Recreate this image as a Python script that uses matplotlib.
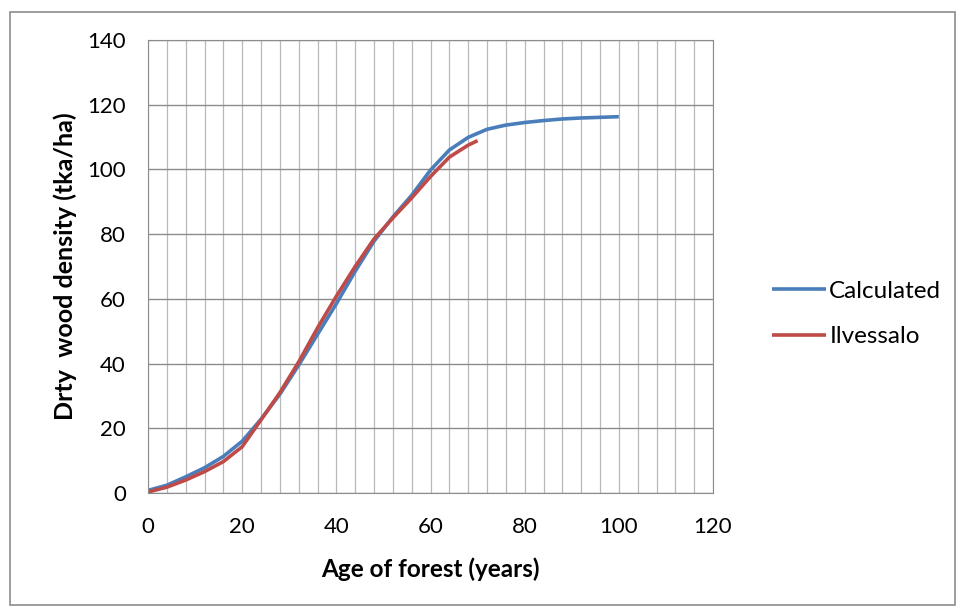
import matplotlib
matplotlib.use("Agg")
import matplotlib.pyplot as plt
from matplotlib.patches import Rectangle
import numpy as np

# age of forest (years) and dry wood density (tka/ha)
calc_age = [0, 4, 8, 12, 16, 20, 24, 28, 32, 36, 40, 44, 48, 52, 56, 60, 64, 68, 72, 76, 80, 84, 88, 92, 96, 100]
calc_val = [0.8, 2.4, 5.0, 7.8, 11.3, 16.0, 22.8, 30.5, 39.5, 49.0, 58.5, 68.5, 77.8, 85.3, 92.0, 99.8, 106.0, 109.9,
            112.4, 113.7, 114.5, 115.1, 115.6, 115.9, 116.1, 116.3]

ilv_age = [0, 4, 8, 12, 16, 20, 24, 28, 32, 36, 40, 44, 48, 52, 56, 60, 64, 68, 70]
ilv_val = [0.3, 1.8, 4.0, 6.6, 9.7, 14.3, 22.6, 31.0, 40.5, 51.0, 60.8, 70.0, 78.5, 85.0, 91.2, 97.8, 103.8, 107.5, 108.9]

x_ticks = [0, 20, 40, 60, 80, 100, 120]
y_ticks = [0, 20, 40, 60, 80, 100, 120, 140]

plt.rcParams['font.family'] = ['Lato', 'DejaVu Sans']

fig = plt.figure(figsize=(9.57, 6.10), dpi=100)
fig.patches.append(Rectangle((10/957, 5/610), 945/957, 593/610, transform=fig.transFigure,
                             fill=False, edgecolor='#8c8c8c', linewidth=1.2))
ax = fig.add_axes([148/957, 1 - 493/610, 565/957, 453/610])

ax.plot(calc_age, calc_val, color='#4a7ebb', linewidth=2.6, label='Calculated', solid_capstyle='butt')
ax.plot(ilv_age, ilv_val, color='#be4b48', linewidth=2.6, label='Ilvessalo', solid_capstyle='butt')

ax.set_xlim(0, 120)
ax.set_ylim(0, 140)
ax.set_xticks(x_ticks)
ax.set_yticks(y_ticks)
ax.set_xticks(np.arange(0, 121, 4), minor=True)
ax.grid(True, which='major', axis='y', color='#8c8c8c', linewidth=1.0)
ax.grid(True, which='both', axis='x', color='#b8b8b8', linewidth=0.9)
ax.set_axisbelow(True)
for s in ax.spines.values():
    s.set_color('#8c8c8c')
ax.tick_params(which='both', length=0, labelsize=16)
ax.tick_params(axis='x', pad=17)
ax.tick_params(axis='y', pad=16)

ax.set_xlabel('Age of forest (years)', fontsize=17.5, fontweight='bold', labelpad=15)
ax.set_ylabel('Drty  wood density (tka/ha)', fontsize=18, fontweight='bold', labelpad=7)

ax.legend(loc='center left', bbox_to_anchor=(1.066, 0.395), frameon=False, fontsize=17.5,
          handlelength=2.2, handletextpad=0.15, labelspacing=1.0)

fig.savefig('out.png', dpi=100)
